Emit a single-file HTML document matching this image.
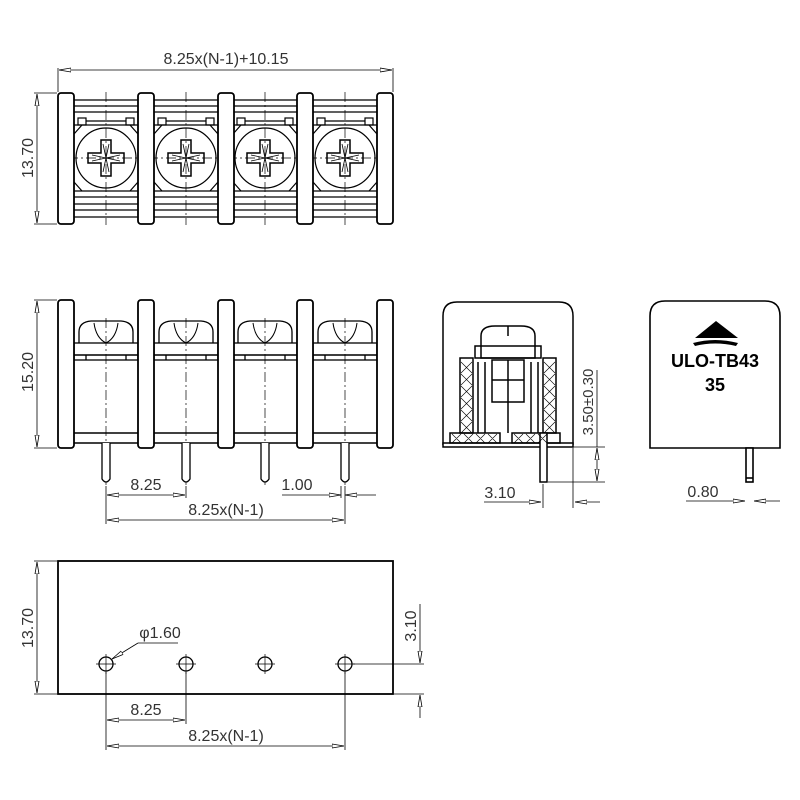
<!DOCTYPE html>
<html><head><meta charset="utf-8"><style>
html,body{margin:0;padding:0;background:#fff}
svg{display:block}
text{font-family:"Liberation Sans Narrow","Liberation Sans",sans-serif;font-size:16px;fill:#333}
</style></head><body>
<svg width="800" height="800" viewBox="0 0 800 800" xmlns="http://www.w3.org/2000/svg">
<defs>
<marker id="a" viewBox="0 0 12 6" refX="12" refY="3" markerWidth="12" markerHeight="6" orient="auto-start-reverse" markerUnits="userSpaceOnUse"><path d="M0,1 L12,3 L0,5 Z" fill="#fff" stroke="#000" stroke-width="0.8"/></marker>
<g id="topcell" stroke="#000" fill="none" stroke-width="1.2">
  <line x1="-32" y1="-58" x2="32" y2="-58"/><line x1="-32" y1="-52" x2="32" y2="-52"/><line x1="-32" y1="-46" x2="32" y2="-46"/>
  <rect x="-28" y="-40" width="8" height="7"/><rect x="20" y="-40" width="8" height="7"/><line x1="-20" y1="-37" x2="20" y2="-37"/><line x1="-32" y1="-33" x2="32" y2="-33"/>
  <path d="M-32,-24 L-24,-33 M32,-24 L24,-33 M-32,24 L-24,33 M32,24 L24,33"/>
  <circle cx="0" cy="0" r="30"/>
  <path d="M-5,-18 H5 V-5 H18 V5 H5 V18 H-5 V5 H-18 V-5 H-5 Z" stroke-width="1.5"/>
  <path d="M-3,-14 L0,0 L3,-14 M-3,14 L0,0 L3,14 M-14,-3 L0,0 L-14,3 M14,-3 L0,0 L14,3" stroke-width="0.8"/>
  <line x1="-32" y1="33" x2="32" y2="33"/><line x1="-32" y1="39" x2="32" y2="39"/><line x1="-32" y1="46" x2="32" y2="46"/><line x1="-32" y1="52" x2="32" y2="52"/><line x1="-32" y1="59" x2="32" y2="59"/>
  <line x1="0" y1="-66" x2="0" y2="67" stroke-dasharray="10,3,2,3" stroke-width="0.7"/>
  <line x1="-38" y1="0" x2="38" y2="0" stroke-dasharray="10,3,2,3" stroke-width="0.7"/>
</g>
<g id="frontcell" stroke="#000" fill="none" stroke-width="1.3">
  <path d="M-27,343 V332 Q-27,322 -15,321 H15 Q27,322 27,332 V343"/>
  <path d="M-12,323 Q-10,338 0,343 Q10,338 12,323" stroke-width="1"/>
  <rect x="-32" y="343" width="64" height="12"/>
  <rect x="-32" y="355" width="64" height="5"/>
  <line x1="-20" y1="355" x2="-20" y2="360"/><line x1="20" y1="355" x2="20" y2="360"/>
  <line x1="0" y1="318" x2="0" y2="485" stroke-dasharray="10,3,2,3" stroke-width="0.7"/>
  <path d="M-4,443 V479 Q0,485 4,479 V443" fill="#fff"/>
</g>
</defs>

<!-- TOP VIEW -->
<use href="#topcell" x="106" y="158"/><use href="#topcell" x="186" y="158"/><use href="#topcell" x="265" y="158"/><use href="#topcell" x="345" y="158"/>
<g fill="#fff" stroke="#000" stroke-width="1.8">
<rect x="58" y="93" width="16" height="131" rx="3"/><rect x="138" y="93" width="16" height="131" rx="3"/><rect x="218" y="93" width="16" height="131" rx="3"/><rect x="297" y="93" width="16" height="131" rx="3"/><rect x="377" y="93" width="16" height="131" rx="3"/>
</g>
<g stroke="#000" stroke-width="0.8" fill="none">
<line x1="58" y1="68" x2="58" y2="92"/><line x1="393" y1="68" x2="393" y2="92"/>
<line x1="59" y1="70" x2="392" y2="70" marker-start="url(#a)" marker-end="url(#a)"/>
<line x1="34" y1="93" x2="57" y2="93"/><line x1="34" y1="224" x2="57" y2="224"/>
<line x1="37" y1="94" x2="37" y2="223" marker-start="url(#a)" marker-end="url(#a)"/>
</g>
<text x="226" y="64" text-anchor="middle">8.25x(N-1)+10.15</text>
<text transform="translate(33,158) rotate(-90)" text-anchor="middle">13.70</text>

<!-- FRONT VIEW -->
<g stroke="#000" stroke-width="1.5" fill="#fff"><rect x="66" y="433" width="320" height="10"/></g>
<use href="#frontcell" x="106"/><use href="#frontcell" x="186"/><use href="#frontcell" x="265"/><use href="#frontcell" x="345"/>
<g fill="#fff" stroke="#000" stroke-width="1.8">
<rect x="58" y="300" width="16" height="148" rx="3"/><rect x="138" y="300" width="16" height="148" rx="3"/><rect x="218" y="300" width="16" height="148" rx="3"/><rect x="297" y="300" width="16" height="148" rx="3"/><rect x="377" y="300" width="16" height="148" rx="3"/>
</g>
<g stroke="#000" stroke-width="0.8" fill="none">
<line x1="34" y1="300" x2="57" y2="300"/><line x1="34" y1="448" x2="57" y2="448"/>
<line x1="37" y1="301" x2="37" y2="447" marker-start="url(#a)" marker-end="url(#a)"/>
<line x1="106" y1="486" x2="106" y2="524"/><line x1="186" y1="486" x2="186" y2="498"/><line x1="345" y1="486" x2="345" y2="524"/><line x1="341" y1="486" x2="341" y2="498"/>
<line x1="107" y1="495" x2="185" y2="495" marker-start="url(#a)" marker-end="url(#a)"/>
<line x1="107" y1="520" x2="344" y2="520" marker-start="url(#a)" marker-end="url(#a)"/>
<line x1="282" y1="495" x2="341" y2="495" marker-end="url(#a)"/>
<line x1="376" y1="495" x2="345" y2="495" marker-end="url(#a)"/>
</g>
<text transform="translate(33,372) rotate(-90)" text-anchor="middle">15.20</text>
<text x="146" y="490" text-anchor="middle">8.25</text>
<text x="226" y="515" text-anchor="middle">8.25x(N-1)</text>
<text x="297" y="490" text-anchor="middle">1.00</text>

<!-- SIDE VIEW -->
<g stroke="#000" fill="none" stroke-width="1.5">
<path d="M443,445 V316 Q443,302 457,302 H559 Q573,302 573,316 V445"/>
<rect x="443" y="443" width="130" height="4" fill="#fff"/>
<path d="M481,358 V336 Q481,326 495,326 H521 Q535,326 535,336 V358 Z"/>
<line x1="508" y1="326" x2="508" y2="336"/>
<rect x="475" y="346" width="66" height="12"/>
<path d="M460,358 H473 V433 H460 Z"/>
<path d="M543,358 H556 V433 H543 Z"/>
<rect x="450" y="433" width="50" height="10"/><rect x="512" y="433" width="48" height="10"/>
<rect x="492" y="360" width="32" height="42"/>
<line x1="508" y1="360" x2="508" y2="433"/><line x1="492" y1="380" x2="524" y2="380"/>
<line x1="478" y1="362" x2="478" y2="433"/><line x1="485" y1="362" x2="485" y2="433"/>
<line x1="531" y1="362" x2="531" y2="433"/><line x1="538" y1="362" x2="538" y2="433"/>
<rect x="540" y="433" width="7" height="49" fill="#fff"/>
</g>
<g stroke="#000" stroke-width="0.6" fill="none">
<path d="M461,362 l11,11 M461,374 l11,11 M461,386 l11,11 M461,398 l11,11 M461,410 l11,11 M461,422 l11,11 M472,362 l-11,11 M472,374 l-11,11 M472,386 l-11,11 M472,398 l-11,11 M472,410 l-11,11 M472,422 l-11,11"/>
<path d="M544,362 l11,11 M544,374 l11,11 M544,386 l11,11 M544,398 l11,11 M544,410 l11,11 M544,422 l11,11 M555,362 l-11,11 M555,374 l-11,11 M555,386 l-11,11 M555,398 l-11,11 M555,410 l-11,11 M555,422 l-11,11"/>
<path d="M452,434 l9,9 M464,434 l9,9 M476,434 l9,9 M488,434 l9,9 M461,434 l-9,9 M473,434 l-9,9 M485,434 l-9,9 M497,434 l-9,9 M514,434 l9,9 M526,434 l9,9 M538,434 l9,9 M523,434 l-9,9 M535,434 l-9,9 M547,434 l-9,9"/>
</g>
<g stroke="#000" stroke-width="0.8" fill="none">
<line x1="573" y1="448" x2="573" y2="508"/><line x1="543" y1="484" x2="543" y2="508"/>
<line x1="484" y1="502" x2="541" y2="502" marker-end="url(#a)"/>
<line x1="600" y1="502" x2="575" y2="502" marker-end="url(#a)"/>
<line x1="548" y1="447" x2="605" y2="447"/><line x1="548" y1="482" x2="605" y2="482"/>
<line x1="597" y1="370" x2="597" y2="447"/>
<line x1="597" y1="448" x2="597" y2="481" marker-start="url(#a)" marker-end="url(#a)"/>
</g>
<text x="500" y="498" text-anchor="middle">3.10</text>
<text transform="translate(593,402) rotate(-90)" text-anchor="middle" style="font-size:15px">3.50±0.30</text>

<!-- LOGO VIEW -->
<g stroke="#000" fill="none" stroke-width="1.6">
<path d="M650,448 V316 Q650,301 665,301 H765 Q780,301 780,316 V448 Z"/>
<rect x="746" y="448" width="7" height="34" fill="#fff"/>
<line x1="746" y1="478" x2="753" y2="478"/>
</g>
<path d="M695,338 L716,321 L738,338 Z" fill="#000"/>
<path d="M693,343 Q715,337 738,343 L736,346 Q715,341 695,346 Z" fill="#000"/>
<text x="715" y="367" text-anchor="middle" style="font-family:'Liberation Sans',sans-serif;font-weight:bold;font-size:18px;fill:#000">ULO-TB43</text>
<text x="715" y="391" text-anchor="middle" style="font-family:'Liberation Sans',sans-serif;font-weight:bold;font-size:18px;fill:#000">35</text>
<g stroke="#000" stroke-width="0.8" fill="none">
<line x1="686" y1="501" x2="745" y2="501" marker-end="url(#a)"/>
<line x1="780" y1="501" x2="754" y2="501" marker-end="url(#a)"/>
</g>
<text x="703" y="497" text-anchor="middle">0.80</text>

<!-- BOTTOM VIEW -->
<rect x="58" y="561" width="335" height="133" fill="none" stroke="#000" stroke-width="1.8"/>
<g stroke="#000" stroke-width="1.3" fill="none">
<circle cx="106" cy="664" r="7"/><circle cx="186" cy="664" r="7"/><circle cx="265" cy="664" r="7"/><circle cx="345" cy="664" r="7"/>
</g>
<g stroke="#000" stroke-width="0.7">
<path d="M96,664 H116 M106,654 V674 M176,664 H196 M186,654 V674 M255,664 H275 M265,654 V674 M335,664 H355 M345,654 V674"/>
</g>
<g stroke="#000" stroke-width="0.8" fill="none">
<line x1="34" y1="561" x2="57" y2="561"/><line x1="34" y1="694" x2="57" y2="694"/>
<line x1="37" y1="562" x2="37" y2="693" marker-start="url(#a)" marker-end="url(#a)"/>
<line x1="106" y1="672" x2="106" y2="750"/><line x1="186" y1="672" x2="186" y2="724"/><line x1="345" y1="672" x2="345" y2="750"/>
<line x1="107" y1="720" x2="185" y2="720" marker-start="url(#a)" marker-end="url(#a)"/>
<line x1="107" y1="746" x2="344" y2="746" marker-start="url(#a)" marker-end="url(#a)"/>
<line x1="178" y1="643" x2="138" y2="643"/><line x1="138" y1="643" x2="112" y2="659" marker-end="url(#a)"/>
<line x1="353" y1="664" x2="424" y2="664"/><line x1="394" y1="694" x2="424" y2="694"/>
<line x1="420" y1="604" x2="420" y2="663" marker-end="url(#a)"/>
<line x1="420" y1="718" x2="420" y2="695" marker-end="url(#a)"/>
</g>
<text transform="translate(33,628) rotate(-90)" text-anchor="middle">13.70</text>
<text x="160" y="638" text-anchor="middle">φ1.60</text>
<text transform="translate(416,626) rotate(-90)" text-anchor="middle">3.10</text>
<text x="146" y="715" text-anchor="middle">8.25</text>
<text x="226" y="741" text-anchor="middle">8.25x(N-1)</text>
</svg>
</body></html>
